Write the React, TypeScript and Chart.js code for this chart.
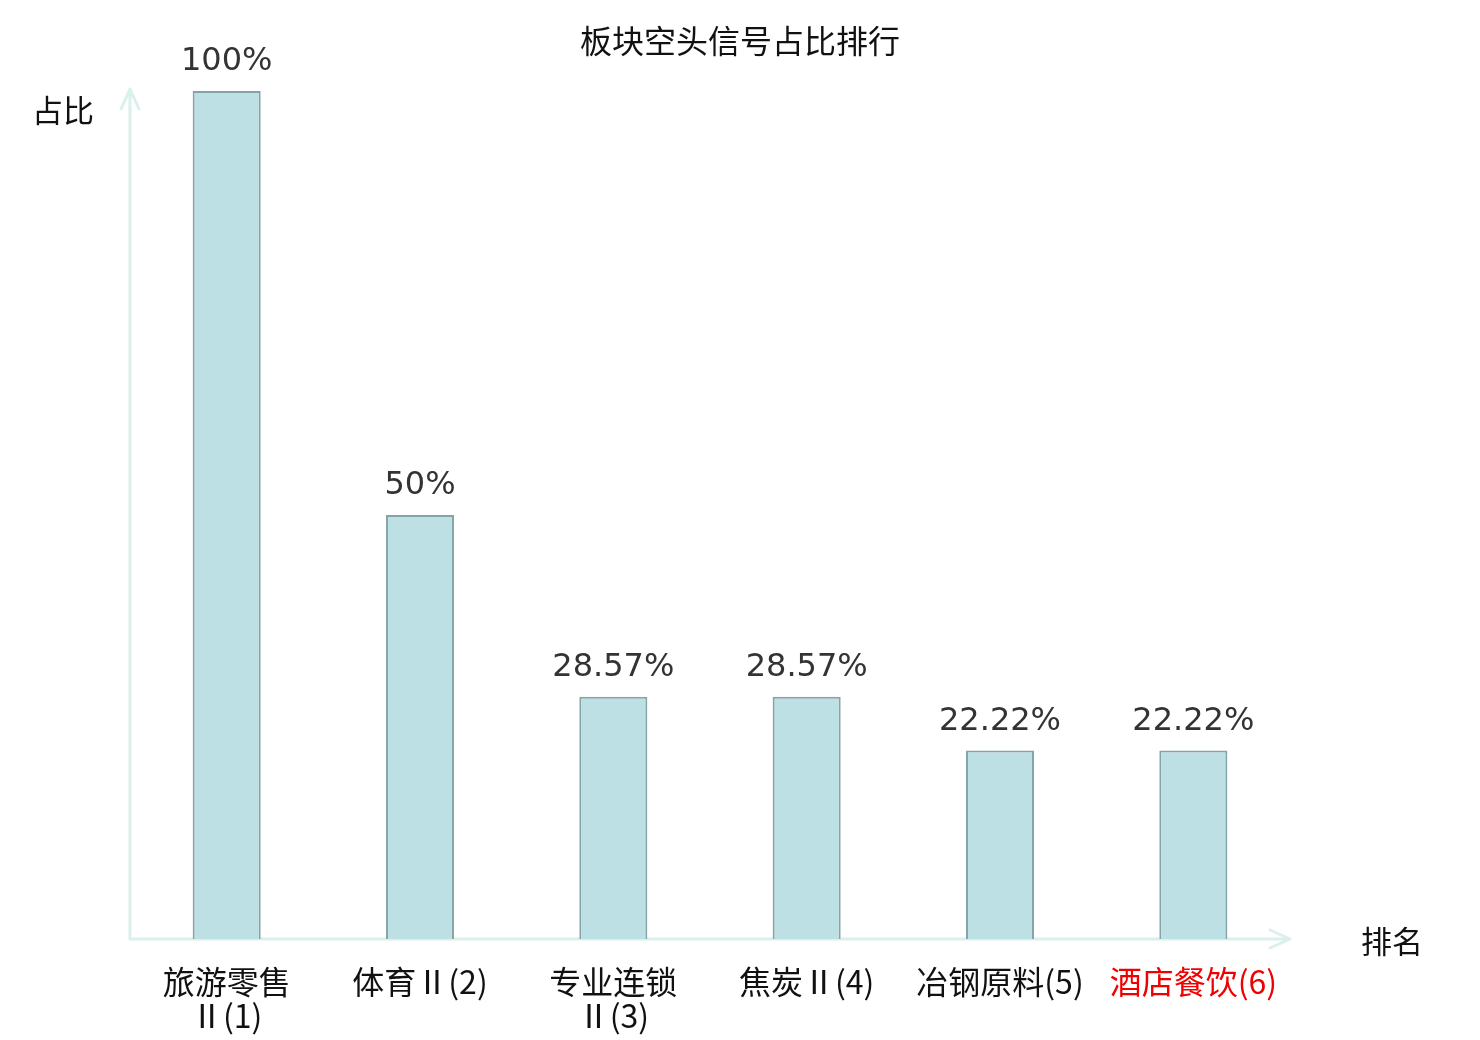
import { useEffect, useRef } from 'react';
import { Chart, registerables } from 'chart.js';

Chart.register(...registerables);

const categories: string[][] = [
  ['旅游零售', 'Ⅱ(1)'],
  ['体育Ⅱ(2)'],
  ['专业连锁', 'Ⅱ(3)'],
  ['焦炭Ⅱ(4)'],
  ['冶钢原料(5)'],
  ['酒店餐饮(6)'],
];
const shares: number[] = [100, 50, 28.57, 28.57, 22.22, 22.22];
const highlightIndex = 5;

const title = '板块空头信号占比排行';
const yName = '占比';
const xName = '排名';

const CJK = '"Noto Sans CJK SC", "DejaVu Sans", sans-serif';
const AXIS_COLOR = '#d9f0ec';

const decorations = {
  id: 'decorations',
  beforeDatasetsDraw(chart: Chart) {
    const { ctx, chartArea } = chart;
    const { left, right, top, bottom } = chartArea;
    ctx.save();
    ctx.strokeStyle = AXIS_COLOR;
    ctx.lineWidth = 3;
    ctx.lineCap = 'round';
    ctx.lineJoin = 'round';
    // y axis with arrow
    ctx.beginPath();
    ctx.moveTo(left, bottom);
    ctx.lineTo(left, top - 2);
    ctx.moveTo(left - 9, top + 18);
    ctx.lineTo(left, top - 2);
    ctx.lineTo(left + 9, top + 18);
    // x axis with arrow
    ctx.moveTo(left, bottom);
    ctx.lineTo(right, bottom);
    ctx.moveTo(right - 20, bottom - 9);
    ctx.lineTo(right, bottom);
    ctx.lineTo(right - 20, bottom + 9);
    ctx.stroke();

    ctx.fillStyle = '#111';
    ctx.font = `31px ${CJK}`;
    ctx.textAlign = 'center';
    ctx.textBaseline = 'middle';
    ctx.fillText(yName, 63, top + 19);
    ctx.fillText(xName, right + 102, bottom + 2);
    ctx.restore();
  },
  afterDatasetsDraw(chart: Chart) {
    const { ctx } = chart;
    const meta = chart.getDatasetMeta(0);
    ctx.save();
    ctx.fillStyle = '#333';
    ctx.font = '32px "DejaVu Sans", sans-serif';
    ctx.textAlign = 'center';
    ctx.textBaseline = 'middle';
    meta.data.forEach((bar: any, i: number) => {
      ctx.fillText(`${shares[i]}%`, bar.x, bar.y - 29);
    });
    ctx.restore();
  },
};

export default function App() {
  const canvasRef = useRef<HTMLCanvasElement>(null);
  const chartRef = useRef<Chart | null>(null);

  useEffect(() => {
    if (!canvasRef.current) return;
    const ctx = canvasRef.current.getContext('2d');
    if (!ctx) return;
    if (chartRef.current) chartRef.current.destroy();

    chartRef.current = new Chart(ctx, {
      type: 'bar',
      data: {
        labels: categories,
        datasets: [
          {
            data: shares,
            backgroundColor: '#bce0e3',
            borderColor: '#84a4a7',
            borderWidth: 2,
            categoryPercentage: 1,
            barPercentage: 0.352,
          },
        ],
      },
      options: {
        animation: false,
        responsive: false,
        maintainAspectRatio: false,
        layout: { padding: 0 },
        plugins: {
          legend: { display: false },
          tooltip: { enabled: false },
          title: {
            display: true,
            text: title,
            color: '#111',
            font: { family: CJK, size: 32, weight: 'normal', lineHeight: 1.2 },
            padding: { top: 22, bottom: 30.6 },
          },
        },
        scales: {
          x: {
            grid: { display: false, drawTicks: false },
            border: { display: false },
            ticks: {
              padding: 26,
              maxRotation: 0,
              autoSkip: false,
              font: { family: CJK, size: 32, weight: 'normal', lineHeight: 1.06 },
              color: (c: any) => (c.index === highlightIndex ? '#f00000' : '#111'),
            },
            afterFit: (scale: any) => {
              scale.height = 101;
            },
          },
          y: {
            min: 0,
            max: 100,
            grid: { display: false, drawTicks: false },
            border: { display: false },
            ticks: { display: false },
            afterFit: (scale: any) => {
              scale.width = 130;
            },
          },
          // empty right-hand axis that keeps room for the x-axis name
          yRight: {
            position: 'right',
            min: 0,
            max: 100,
            grid: { display: false, drawTicks: false },
            border: { display: false },
            ticks: { display: false },
            afterFit: (scale: any) => {
              scale.width = 190;
            },
          },
        },
      },
      plugins: [decorations],
    });

    return () => {
      if (chartRef.current) {
        chartRef.current.destroy();
        chartRef.current = null;
      }
    };
  }, []);

  return (
    <div style={{ position: 'fixed', left: 0, top: 0, width: 1480, height: 1040, background: '#fff' }}>
      <canvas ref={canvasRef} width={1480} height={1040} style={{ width: 1480, height: 1040 }} />
    </div>
  );
}
